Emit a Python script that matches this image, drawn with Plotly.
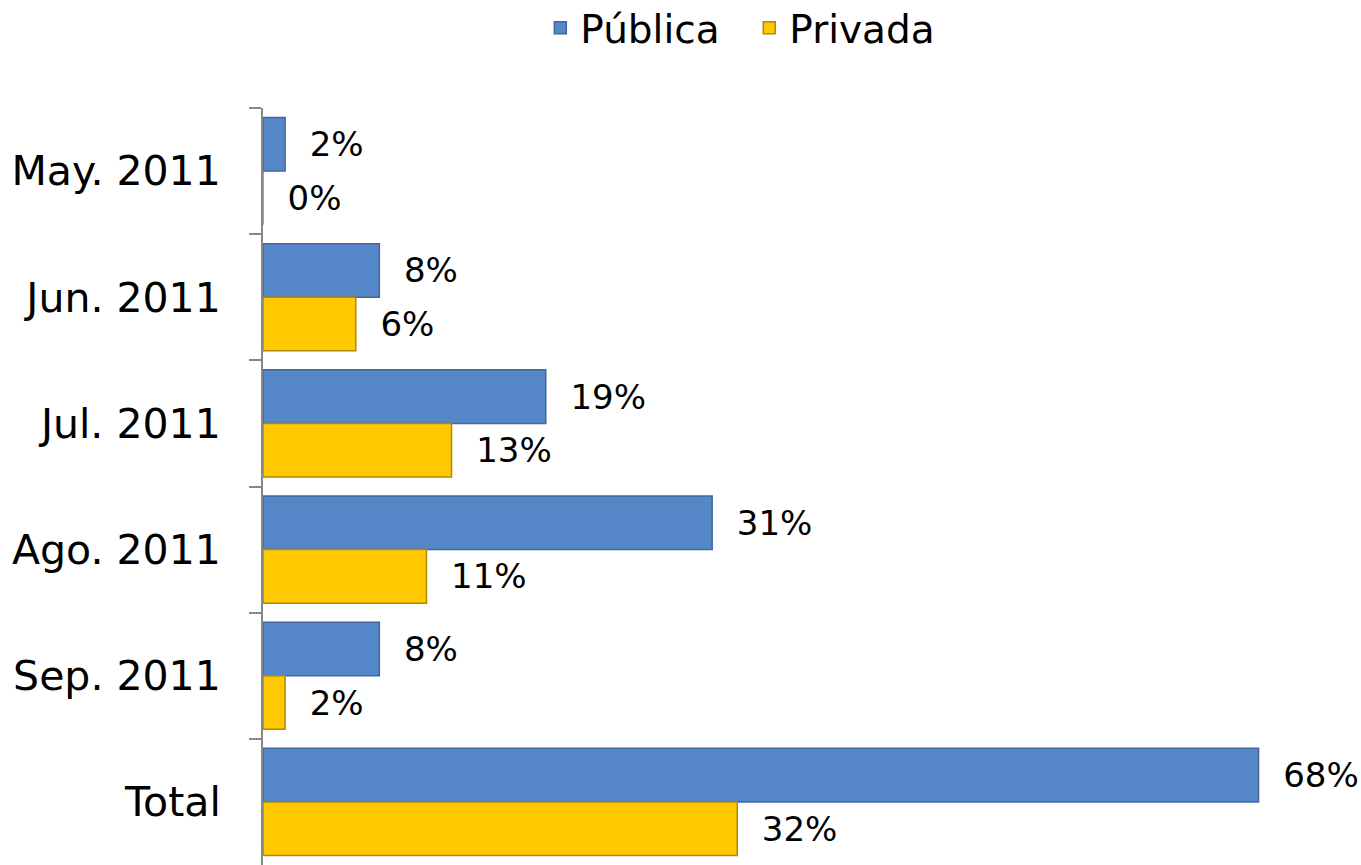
import plotly.graph_objects as go

categories = ['May. 2011', 'Jun. 2011', 'Jul. 2011', 'Ago. 2011', 'Sep. 2011', 'Total']
publica = [1.5, 7.9, 19.2, 30.5, 7.9, 67.6]
privada = [0.0, 6.3, 12.8, 11.1, 1.5, 32.2]

fig = go.Figure()

fig.add_trace(go.Bar(
    y=categories, x=publica, name='Pública', orientation='h',
    marker=dict(color='#5587c8', line=dict(color='#41679c', width=1.5)),
    texttemplate='  %{x:.0f}%', textposition='outside', cliponaxis=False,
    textfont=dict(size=34, color='black')
))
fig.add_trace(go.Bar(
    y=categories, x=privada, name='Privada', orientation='h',
    marker=dict(color='#ffc800', line=dict(color='#b08a00', width=1.5)),
    texttemplate='  %{x:.0f}%', textposition='outside', cliponaxis=False,
    textfont=dict(size=34, color='black')
))

fig.update_layout(
    width=1361, height=865,
    margin=dict(l=263, r=45, t=108, b=0, autoexpand=False),
    paper_bgcolor='white', plot_bgcolor='white',
    font=dict(family='DejaVu Sans', color='black'),
    barmode='group', bargap=0.15, bargroupgap=0,
    showlegend=True,
    legend=dict(orientation='h', xref='container', yref='paper', x=0.397, y=1.148,
                xanchor='left', yanchor='top', font=dict(size=39),
                itemwidth=30, entrywidth=164, traceorder='normal'),
)
fig.update_xaxes(range=[0, 71.5], showgrid=False, zeroline=False, showticklabels=False,
                 showline=False, ticks='', automargin=False)
fig.update_yaxes(autorange='reversed', showgrid=False, showline=True, linecolor='#888888',
                 linewidth=2, ticks='outside', ticklen=12, tickcolor='#888888', tickwidth=2,
                 tickson='boundaries', tickfont=dict(size=41), ticklabelstandoff=32,
                 automargin=False)

fig.write_html("out.html", config={'displayModeBar': False},
               post_script="document.body.style.margin='0';")
